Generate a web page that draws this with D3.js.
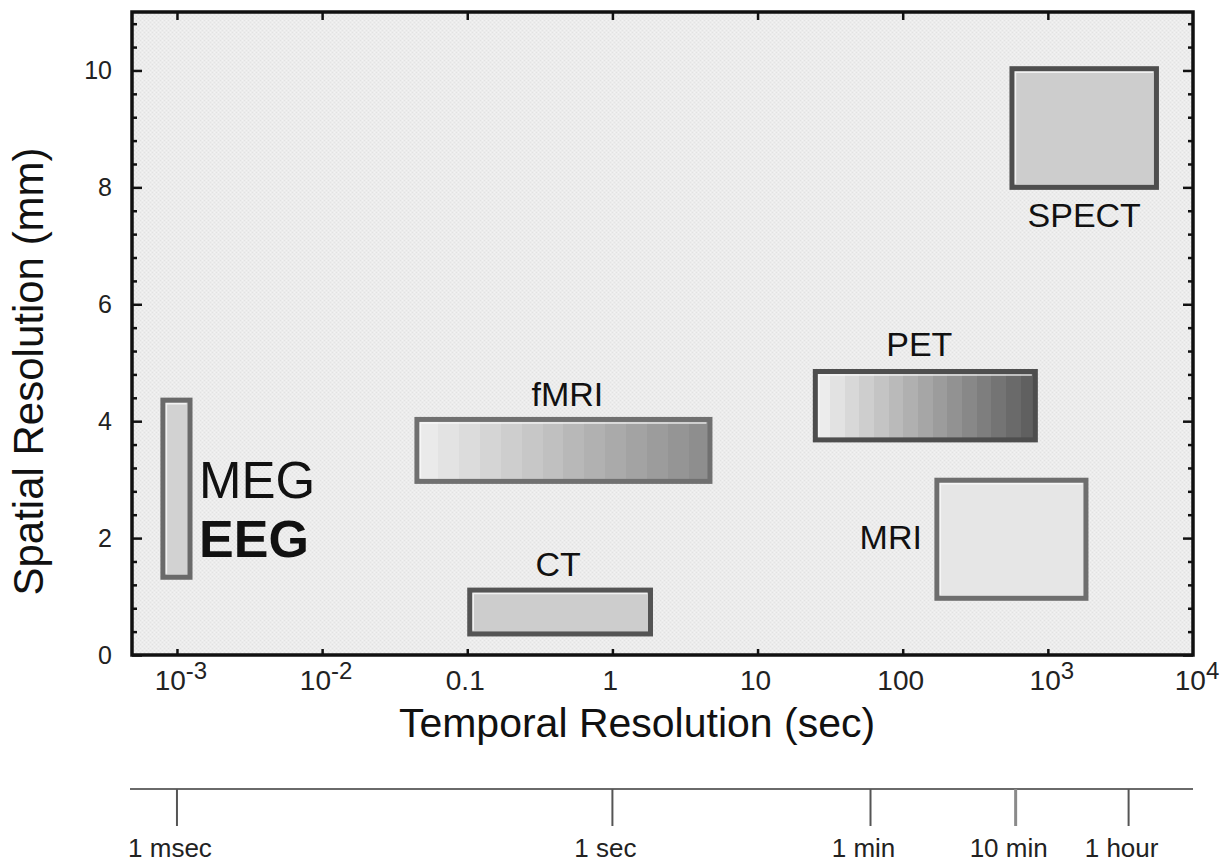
<!DOCTYPE html>
<html>
<head>
<meta charset="utf-8">
<script src="https://cdn.jsdelivr.net/npm/d3@7"></script>
<style>
  html, body { margin: 0; padding: 0; background: #fff; }
  svg { display: block; font-family: "Liberation Sans", Arial, Helvetica, sans-serif; }
</style>
</head>
<body>
<svg id="chart" width="1221" height="866"></svg>
<script>
// Imaging techniques and their temporal (s) / spatial (mm) resolution ranges
const techniques = ["MEG/EEG", "fMRI", "PET", "CT", "MRI", "SPECT"];
const timeMin = [0.0008, 0.045, 25, 0.104, 172, 566];
const timeMax = [0.00123, 4.7, 820, 1.83, 1830, 5600];
const spaceMin = [1.33, 2.97, 3.68, 0.36, 0.97, 8.0];
const spaceMax = [4.36, 4.03, 4.85, 1.11, 2.99, 10.03];

// Axis ticks
const xTickValues = [0.001, 0.01, 0.1, 1, 10, 100, 1000, 10000];
const xTickLabels = [["10", "-3"], ["10", "-2"], ["0.1", ""], ["1", ""], ["10", ""], ["100", ""], ["10", "3"], ["10", "4"]];
const yMajorTicks = [0, 2, 4, 6, 8, 10];

// Human-readable time scale under the chart
const timeMarks = [0.001, 1, 60, 600, 3600];
const timeMarkLabels = ["1 msec", "1 sec", "1 min", "10 min", "1 hour"];

const svg = d3.select("#chart");

const plot = { left: 132, right: 1193, top: 12, bottom: 655 };

const x = d3.scaleLog().domain([0.00049, 10000]).range([plot.left, plot.right]);
const y = d3.scaleLinear().domain([0, 11]).range([plot.bottom, plot.top]);

// ---- defs: stipple background and banded gradients ----
const defs = svg.append("defs");
const pat = defs.append("pattern")
  .attr("id", "stipple").attr("width", 4).attr("height", 4)
  .attr("patternUnits", "userSpaceOnUse");
pat.append("rect").attr("width", 4).attr("height", 4).attr("fill", "#ececec");
pat.append("rect").attr("x", 0).attr("y", 0).attr("width", 1).attr("height", 1).attr("fill", "#e2e2e2");
pat.append("rect").attr("x", 2).attr("y", 2).attr("width", 1).attr("height", 1).attr("fill", "#e4e4e4");
pat.append("rect").attr("x", 2).attr("y", 0).attr("width", 1).attr("height", 1).attr("fill", "#f3f3f3");
pat.append("rect").attr("x", 0).attr("y", 2).attr("width", 1).attr("height", 1).attr("fill", "#f2f2f2");

function bandedGradient(id, from, to, bands) {
  const g = defs.append("linearGradient").attr("id", id)
    .attr("x1", "0%").attr("x2", "100%").attr("y1", "0%").attr("y2", "0%");
  const c = d3.interpolateRgb(from, to);
  for (let i = 0; i < bands; i++) {
    const col = c(i / (bands - 1));
    g.append("stop").attr("offset", (i / bands * 100) + "%").attr("stop-color", col);
    g.append("stop").attr("offset", ((i + 1) / bands * 100) + "%").attr("stop-color", col);
  }
}
bandedGradient("gradFmri", "#eaeaea", "#8e8e8e", 14);
bandedGradient("gradPet", "#ececec", "#606060", 15);

const boxStyle = {
  "MEG/EEG": { fill: "#d2d2d2", stroke: "#6a6a6a" },
  "fMRI":    { fill: "url(#gradFmri)", stroke: "#707070" },
  "PET":     { fill: "url(#gradPet)", stroke: "#4e4e4e" },
  "CT":      { fill: "#cdcdcd", stroke: "#545454" },
  "MRI":     { fill: "#e6e6e6", stroke: "#6e6e6e" },
  "SPECT":   { fill: "#cdcdcd", stroke: "#4e4e4e" }
};

// ---- plot background ----
svg.append("rect")
  .attr("x", plot.left).attr("y", plot.top)
  .attr("width", plot.right - plot.left).attr("height", plot.bottom - plot.top)
  .attr("fill", "url(#stipple)");

// ---- boxes ----
const data = techniques.map((name, i) => ({
  name, t0: timeMin[i], t1: timeMax[i], s0: spaceMin[i], s1: spaceMax[i]
}));

const boxes = svg.append("g").selectAll("g").data(data).join("g");
boxes.append("rect")
  .attr("x", d => x(d.t0)).attr("y", d => y(d.s1))
  .attr("width", d => x(d.t1) - x(d.t0)).attr("height", d => y(d.s0) - y(d.s1))
  .attr("fill", d => boxStyle[d.name].fill)
  .attr("stroke", d => boxStyle[d.name].stroke)
  .attr("stroke-width", 5);
// light bevel along the inner top and left edges
boxes.append("path")
  .attr("d", d => {
    const x0 = x(d.t0) + 3.5, x1 = x(d.t1) - 3.5, y0 = y(d.s1) + 3.5, y1 = y(d.s0) - 3.5;
    return `M${x0},${y1}L${x0},${y0}L${x1},${y0}`;
  })
  .attr("fill", "none").attr("stroke", "#fafafa").attr("stroke-opacity", 0.8).attr("stroke-width", 1.5);

// ---- box labels ----
const labelFont = 34;
const labels = svg.append("g").attr("fill", "#111").attr("font-size", labelFont);
const byName = Object.fromEntries(data.map(d => [d.name, d]));
const midT = d => Math.sqrt(d.t0 * d.t1);

labels.append("text").attr("text-anchor", "middle")
  .attr("x", x(midT(byName["fMRI"])) + 4).attr("y", y(byName["fMRI"].s1) - 13)
  .text("fMRI");
labels.append("text").attr("text-anchor", "middle")
  .attr("x", x(midT(byName["PET"])) - 6).attr("y", y(byName["PET"].s1) - 15)
  .text("PET");
labels.append("text").attr("text-anchor", "middle")
  .attr("x", x(midT(byName["CT"])) - 2).attr("y", y(byName["CT"].s1) - 14)
  .text("CT");
labels.append("text").attr("text-anchor", "end")
  .attr("x", x(byName["MRI"].t0) - 15).attr("y", y((byName["MRI"].s0 + byName["MRI"].s1) / 2) + 10)
  .text("MRI");
labels.append("text").attr("text-anchor", "middle")
  .attr("x", x(midT(byName["SPECT"]))).attr("y", y(byName["SPECT"].s0) + 40)
  .text("SPECT");
labels.append("text").attr("text-anchor", "start").attr("font-size", 51)
  .attr("x", x(byName["MEG/EEG"].t1) + 9).attr("y", y(byName["MEG/EEG"].s0) - 79)
  .text("MEG");
labels.append("text").attr("text-anchor", "start").attr("font-size", 52).attr("font-weight", "bold")
  .attr("x", x(byName["MEG/EEG"].t1) + 9).attr("y", y(byName["MEG/EEG"].s0) - 20)
  .text("EEG");

// ---- axes (ticks pointing inward) ----
function styleAxis(g) {
  g.select(".domain").remove();
  g.selectAll(".tick line").attr("stroke", "#111").attr("stroke-width", 2.5);
}
const yMinor = d3.range(0.4, 11, 0.4).filter(v => Math.abs(v / 2 - Math.round(v / 2)) > 1e-6);

svg.append("g").attr("transform", `translate(${plot.left},0)`)
  .call(d3.axisLeft(y).tickValues(yMajorTicks).tickSize(-10).tickPadding(20).tickFormat(d3.format("d")))
  .call(styleAxis)
  .call(g => g.selectAll("text").attr("font-size", 25).attr("fill", "#222")
    .attr("font-family", "'Liberation Sans', Arial, sans-serif"));
svg.append("g").attr("transform", `translate(${plot.left},0)`)
  .call(d3.axisLeft(y).tickValues(yMinor).tickSize(-5).tickFormat(""))
  .call(styleAxis);
svg.append("g").attr("transform", `translate(${plot.right},0)`)
  .call(d3.axisRight(y).tickValues(yMajorTicks).tickSize(-10).tickFormat(""))
  .call(styleAxis);
svg.append("g").attr("transform", `translate(${plot.right},0)`)
  .call(d3.axisRight(y).tickValues(yMinor).tickSize(-5).tickFormat(""))
  .call(styleAxis);
svg.append("g").attr("transform", `translate(0,${plot.top})`)
  .call(d3.axisTop(x).tickValues(xTickValues.slice(0, -1)).tickSize(-8).tickFormat(""))
  .call(styleAxis);
svg.append("g").attr("transform", `translate(0,${plot.bottom})`)
  .call(d3.axisBottom(x).tickValues(xTickValues.slice(0, -1)).tickSize(-6).tickFormat(""))
  .call(styleAxis);

// x tick labels with superscript exponents
const xl = svg.append("g").attr("font-size", 28).attr("fill", "#222");
xTickValues.forEach((v, i) => {
  const [base, sup] = xTickLabels[i];
  const t = xl.append("text")
    .attr("x", x(v) + (sup ? 4 : -2)).attr("y", plot.bottom + 35)
    .attr("text-anchor", "middle");
  t.append("tspan").text(base);
  if (sup) t.append("tspan").attr("dy", -11).attr("font-size", 24).text(sup);
});

// frame
svg.append("rect")
  .attr("x", plot.left).attr("y", plot.top)
  .attr("width", plot.right - plot.left).attr("height", plot.bottom - plot.top)
  .attr("fill", "none").attr("stroke", "#111").attr("stroke-width", 3.5);

// axis titles
svg.append("text")
  .attr("x", 637).attr("y", 737).attr("text-anchor", "middle")
  .attr("font-size", 41).attr("fill", "#111")
  .text("Temporal Resolution (sec)");
svg.append("text")
  .attr("transform", `translate(43,${(plot.top + plot.bottom) / 2 + 38}) rotate(-90)`)
  .attr("text-anchor", "middle")
  .attr("font-size", 42).attr("fill", "#111")
  .text("Spatial Resolution (mm)");

// ---- time scale ----
const tl = svg.append("g");
tl.append("line")
  .attr("x1", plot.left - 2).attr("x2", plot.right).attr("y1", 789).attr("y2", 789)
  .attr("stroke", "#6a6a6a").attr("stroke-width", 2);
tl.selectAll("line.mark").data(timeMarks).join("line").attr("class", "mark")
  .attr("x1", d => x(d)).attr("x2", d => x(d)).attr("y1", 789).attr("y2", 826)
  .attr("stroke", (d, i) => i === 3 ? "#8a8a8a" : "#555")
  .attr("stroke-width", (d, i) => i === 3 ? 3 : 2);
tl.selectAll("text").data(timeMarks).join("text")
  .attr("x", d => x(d) - 7).attr("y", 857).attr("text-anchor", "middle")
  .attr("font-size", 26).attr("fill", "#222")
  .text((d, i) => timeMarkLabels[i]);
</script>
</body>
</html>
